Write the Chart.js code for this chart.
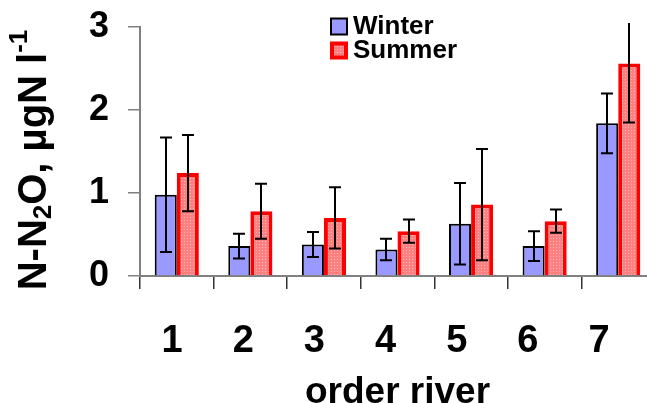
<!DOCTYPE html>
<html>
<head>
<meta charset="utf-8">
<script src="https://cdn.jsdelivr.net/npm/chart.js@4/dist/chart.umd.min.js"></script>
<style>
  html, body { margin: 0; padding: 0; background: #fff; overflow: hidden; width: 647px; height: 403px; }
  #wrap { position: relative; width: 660px; height: 403px; }
</style>
</head>
<body>
<div id="wrap"><canvas id="c" width="660" height="403"></canvas></div>
<script>
// River order categories and dissolved N2O (µgN per litre), mean ± SD
const orders = ['1', '2', '3', '4', '5', '6', '7'];
const winter = [0.98, 0.36, 0.38, 0.32, 0.63, 0.36, 1.84];
const winterErr = [0.69, 0.15, 0.15, 0.13, 0.49, 0.18, 0.36];
const summer = [1.24, 0.78, 0.70, 0.54, 0.86, 0.66, 2.56];
const summerErr = [0.46, 0.33, 0.37, 0.14, 0.67, 0.14, 0.71];
const yTicks = [0, 1, 2, 3];

const FONT = '"Liberation Sans", Arial, Helvetica, sans-serif';

// dotted pink fill for the summer bars
function dotPattern() {
  const t = document.createElement('canvas');
  t.width = 3; t.height = 3;
  const g = t.getContext('2d');
  g.fillStyle = '#ff8080'; g.fillRect(0, 0, 3, 3);
  g.fillStyle = '#ffb8b8'; g.fillRect(1, 1, 1, 1);
  return g.createPattern(t, 'repeat');
}
const summerFill = dotPattern();

// vertical error bars with caps, clipped at the top of the plot
const errorBars = {
  id: 'errorBars',
  afterDatasetsDraw(chart) {
    const { ctx, chartArea, scales: { y } } = chart;
    ctx.save();
    ctx.beginPath();
    ctx.rect(chartArea.left, chartArea.top - 4, chartArea.right - chartArea.left, chartArea.bottom - chartArea.top + 4);
    ctx.clip();
    ctx.strokeStyle = '#000';
    ctx.lineWidth = 2;
    chart.data.datasets.forEach((ds, di) => {
      const meta = chart.getDatasetMeta(di);
      meta.data.forEach((bar, i) => {
        const v = ds.data[i], e = ds.errors[i];
        const top = y.getPixelForValue(v + e);
        const bot = y.getPixelForValue(v - e);
        const x = Math.round(bar.x);
        ctx.beginPath();
        ctx.moveTo(x, top); ctx.lineTo(x, bot);
        ctx.moveTo(x - 6, top); ctx.lineTo(x + 6, top);
        ctx.moveTo(x - 6, bot); ctx.lineTo(x + 6, bot);
        ctx.stroke();
      });
    });
    ctx.restore();
  }
};

// stacked legend inside the plot, near the top
const boxLegend = {
  id: 'boxLegend',
  afterDraw(chart) {
    const ctx = chart.ctx;
    const left = 330, rows = [26, 50], size = 17;
    ctx.save();
    chart.data.datasets.forEach((ds, i) => {
      const cy = rows[i];
      const bw = ds.borderWidth;
      ctx.fillStyle = ds.borderColor;
      ctx.fillRect(left, cy - size / 2, size + 1, size + 1);
      ctx.fillStyle = ds.backgroundColor;
      ctx.fillRect(left + bw, cy - size / 2 + bw, size + 1 - 2 * bw, size + 1 - 2 * bw);
      ctx.fillStyle = '#000';
      ctx.font = 'bold 26px ' + FONT;
      ctx.textBaseline = 'middle';
      ctx.textAlign = 'left';
      ctx.fillText(ds.label, left + 23, cy + 1);
    });
    ctx.restore();
  }
};

// rotated y-axis title with subscript and superscript
const yTitle = {
  id: 'yTitle',
  afterDraw(chart) {
    const ctx = chart.ctx;
    const big = 'bold 40px ' + FONT, small = 'bold 26px ' + FONT;
    const parts = [
      { t: 'N-N', f: big, dy: 0 },
      { t: '2', f: small, dy: 9 },
      { t: 'O, µgN l', f: big, dy: 0 },
      { t: '-1', f: small, dy: -15 }
    ];
    ctx.save();
    let total = 0;
    parts.forEach(p => { ctx.font = p.f; p.w = ctx.measureText(p.t).width; total += p.w; });
    ctx.translate(35, 160);
    ctx.rotate(-Math.PI / 2);
    ctx.fillStyle = '#000';
    ctx.textBaseline = 'middle';
    ctx.textAlign = 'left';
    let x = -total / 2;
    parts.forEach(p => { ctx.font = p.f; ctx.fillText(p.t, x, p.dy); x += p.w; });
    ctx.restore();
  }
};

new Chart(document.getElementById('c'), {
  type: 'bar',
  data: {
    labels: orders,
    datasets: [
      {
        label: 'Winter',
        data: winter,
        errors: winterErr,
        backgroundColor: '#9999ff',
        borderColor: '#000000',
        borderWidth: 2
      },
      {
        label: 'Summer',
        data: summer,
        errors: summerErr,
        backgroundColor: summerFill,
        borderColor: '#ff0000',
        borderWidth: 4
      }
    ]
  },
  options: {
    responsive: false,
    animation: false,
    events: [],
    categoryPercentage: 0.6,
    barPercentage: 1.0,
    layout: { padding: { top: 27, right: 5, left: 0, bottom: 0 } },
    plugins: { legend: { display: false }, tooltip: { enabled: false } },
    scales: {
      x: {
        type: 'category',
        position: 'bottom',
        offset: true,
        grid: { offset: true, drawOnChartArea: false, drawTicks: true, tickLength: 13, color: '#333', lineWidth: 1.5 },
        border: { display: true, color: '#808080', width: 2 },
        ticks: { display: false },
        afterFit(s) { s.height = 14; }
      },
      x2: {
        type: 'linear',
        position: 'bottom',
        offset: false,
        bounds: 'data',
        min: 0.55,
        max: 7.786,
        grid: { display: false, drawTicks: false, offset: false },
        border: { display: false },
        afterBuildTicks(s) { s.ticks = orders.map((o, i) => ({ value: i + 1 })); },
        ticks: {
          autoSkip: false,
          maxRotation: 0,
          padding: 29,
          color: '#000',
          font: { family: FONT, size: 38, weight: 'bold' },
          callback: (v) => orders[Math.round(v) - 1]
        },
        title: {
          display: true,
          text: 'order river',
          color: '#000',
          font: { family: FONT, size: 37, weight: 'bold', lineHeight: 0.56 },
          padding: 0
        },
        afterFit(s) { s.height = 113; }
      },
      y: {
        min: 0,
        max: 3,
        afterBuildTicks(s) { s.ticks = yTicks.map(v => ({ value: v })); },
        grid: { drawOnChartArea: false, drawTicks: true, tickLength: 12, color: '#808080', lineWidth: 1.5 },
        border: { display: true, color: '#808080', width: 2 },
        ticks: {
          padding: 19,
          color: '#000',
          font: { family: FONT, size: 36, weight: 'bold', lineHeight: 0.4 }
        },
        afterFit(s) { s.width = 140; }
      }
    }
  },
  plugins: [errorBars, boxLegend, yTitle]
});
</script>
</body>
</html>
